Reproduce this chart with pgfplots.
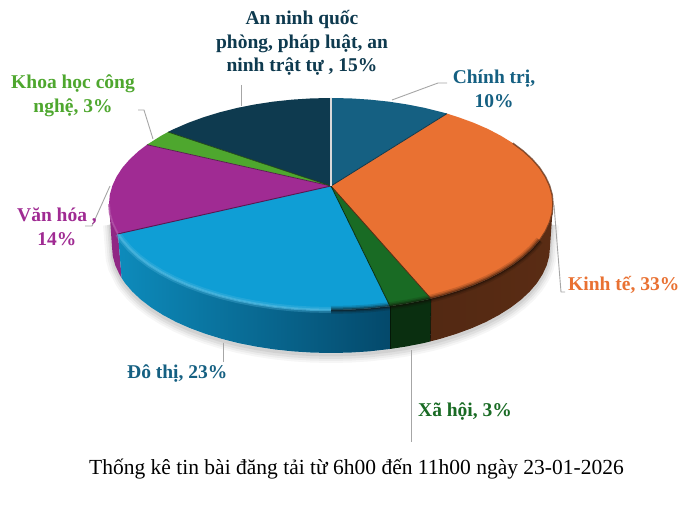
\documentclass[border=0pt]{standalone}
\usepackage{pgfplots}
\pgfplotsset{compat=1.18}
\usepackage{pgfplotstable}
\usepackage{fontspec}
\setmainfont{Liberation Serif}
\definecolor{cTeal}{HTML}{156082}
\definecolor{cOrange}{HTML}{E97132}
\definecolor{cGreen}{HTML}{196B24}
\definecolor{cBlue}{HTML}{0F9ED5}
\definecolor{cPurple}{HTML}{A02B93}
\definecolor{cLime}{HTML}{4EA72E}
\definecolor{cNavy}{HTML}{0E3A4F}
\definecolor{cLead}{HTML}{A6A6A6}
\definecolor{cBrown}{HTML}{5A2C14}
\definecolor{cDGreen}{HTML}{0A2F10}
\definecolor{cDBlue}{HTML}{04496B}
\tikzset{lbl/.style={font=\fontsize{19.5}{23.5}\selectfont\bfseries, align=center, inner sep=0pt}}
\pgfplotstableread{
x y
331 326
331 414
350.4 413.6
369.5 412.4
388.5 410.4
406.9 407.6
424.8 404.1
442 399.8
447 398.4
}\sTeal
\pgfplotstableread{
x y
331 326
447 398.4
458.3 394.8
473.7 389.2
488 383
501.1 376.1
512.9 368.8
523.3 361
532.2 352.8
539.6 344.3
545.4 335.4
549.6 326.4
552.2 317.2
553 308
552.2 298.8
549.6 289.6
545.4 280.6
539.6 271.7
532.2 263.2
523.3 255
512.9 247.2
501.1 239.9
488 233
473.7 226.8
458.3 221.2
442 216.2
431 213.4
}\sOrange
\pgfplotstableread{
x y
331 326
431 213.4
424.8 211.9
406.9 208.4
390 205.8
}\sGreen
\pgfplotstableread{
x y
331 326
390 205.8
388.5 205.6
369.5 203.6
350.4 202.4
331 202
311.6 202.4
292.5 203.6
273.5 205.6
255.1 208.4
237.2 211.9
220 216.2
203.7 221.2
188.3 226.8
174 233
160.9 239.9
149.1 247.2
138.7 255
129.8 263.2
122.4 271.7
118 278.1
}\sBlue
\pgfplotstableread{
x y
331 326
118 278.1
116.6 280.6
112.4 289.6
109.8 298.8
109 308
109.8 317.2
112.4 326.4
116.6 335.4
122.4 344.3
129.8 352.8
138.7 361
147 367.3
}\sPurple
\pgfplotstableread{
x y
331 326
147 367.3
160.9 376.1
168 380
}\sLime
\pgfplotstableread{
x y
331 326
168 380
174 383
188.3 389.2
203.7 394.8
220 399.8
237.2 404.1
255.1 407.6
273.5 410.4
292.5 412.4
311.6 413.6
331 414
}\sNavy
% side walls
\pgfplotstableread{
x y
431 213.4
442 216.2
458.3 221.2
473.7 226.8
488 233
501.1 239.9
512.9 247.2
523.3 255
532.2 263.2
539.6 271.7
545.4 280.6
549.6 289.6
552.2 298.8
553 308
550 265
549.2 255.8
546.7 246.6
542.5 237.6
536.8 228.7
529.5 220.2
520.7 212
510.4 204.2
498.8 196.9
485.9 190
471.8 183.8
456.6 178.2
440.5 173.2
430.4 170.6
}\wOrange
\pgfplotstableread{
x y
431 213.4
424.8 211.9
406.9 208.4
390 205.8
390 163
405.9 165.4
423.6 168.9
430.4 170.6
}\wGreen
\pgfplotstableread{
x y
390 205.8
369.5 203.6
350.4 202.4
331 202
311.6 202.4
292.5 203.6
273.5 205.6
255.1 208.4
237.2 211.9
220 216.2
203.7 221.2
188.3 226.8
174 233
160.9 239.9
149.1 247.2
138.7 255
129.8 263.2
122.4 271.7
118 278.1
121.6 234
125.2 228.7
132.5 220.2
141.3 212
151.6 204.2
163.2 196.9
176.1 190
190.2 183.8
205.4 178.2
221.5 173.2
238.4 168.9
256.1 165.4
274.3 162.6
293 160.6
311.9 159.4
331 159
350.1 159.4
369 160.6
390 163
}\wBlue
\pgfplotstableread{
x y
118 278.1
116.6 280.6
112.4 289.6
109.8 298.8
109 308
112 265
112.8 255.8
115.3 246.6
119.5 237.6
121.6 234
}\wPurple
% lower rim, for the soft shadow
\pgfplotstableread{
x y
552 290
550 265
549.2 255.8
546.7 246.6
542.5 237.6
536.8 228.7
529.5 220.2
520.7 212
510.4 204.2
498.8 196.9
485.9 190
471.8 183.8
456.6 178.2
440.5 173.2
430.4 170.6
405.9 165.4
390 163
369 160.6
350.1 159.4
331 159
311.9 159.4
293 160.6
274.3 162.6
256.1 165.4
238.4 168.9
221.5 173.2
205.4 178.2
190.2 183.8
176.1 190
163.2 196.9
151.6 204.2
141.3 212
132.5 220.2
125.2 228.7
121.6 234
115.3 246.6
112.8 255.8
112 265
110 290
}\rim
% bevel arcs
\pgfplotstableread{
x y
539.6 271.7
532.2 263.2
523.3 255
512.9 247.2
501.1 239.9
488 233
473.7 226.8
458.3 221.2
442 216.2
431 213.4
424.8 211.9
406.9 208.4
390 205.8
369.5 203.6
350.4 202.4
331 202
}\bevDark
\pgfplotstableread{
x y
512.9 368.8
523.3 361
532.2 352.8
539.6 344.3
545.4 335.4
549.6 326.4
552.2 317.2
553 308
552.2 298.8
549.6 289.6
545.4 280.6
539.6 271.7
}\bevRight
\pgfplotstableread{
x y
331 202
311.6 202.4
292.5 203.6
273.5 205.6
255.1 208.4
237.2 211.9
220 216.2
203.7 221.2
188.3 226.8
174 233
160.9 239.9
149.1 247.2
138.7 255
129.8 263.2
122.4 271.7
118 278.1
}\bevBlue
\pgfplotstableread{
x y
118 278.1
116.6 280.6
112.4 289.6
109.8 298.8
109 308
}\bevPurple
\begin{document}
\begin{tikzpicture}[x=1pt,y=1pt]
\begin{axis}[
  at={(0,0)}, anchor=south west,
  width=686pt, height=512pt, scale only axis,
  xmin=0, xmax=686, ymin=0, ymax=512,
  hide axis, clip=false,
  every axis plot/.append style={line join=round},
]
% page
\addplot[draw=none, fill=white] coordinates {(0,0) (686,0) (686,512) (0,512)};
% soft shadow
\addplot[no markers, draw=black, opacity=.035, line width=14pt, yshift=-3pt] table {\rim};
\addplot[no markers, draw=black, opacity=.04, line width=10pt, yshift=-3pt] table {\rim};
\addplot[no markers, draw=black, opacity=.05, line width=6pt, yshift=-3pt] table {\rim};
\addplot[no markers, draw=black, opacity=.06, line width=3pt, yshift=-2pt] table {\rim};
% side walls
\addplot[no markers, draw=none, left color=cBrown!92!black, right color=cBrown] table {\wOrange};
\addplot[no markers, draw=none, fill=cDGreen] table {\wGreen};
\addplot[no markers, draw=none, fill=cPurple!90!black] table {\wPurple};
\addplot[no markers, draw=none, left color=cBlue!88!black, middle color=cBlue!55!cDBlue, right color=cDBlue] table {\wBlue};
% wall seam
\addplot[no markers, draw=black, opacity=.5, line width=.6pt] coordinates {(390,205.8) (390,163)};
\addplot[no markers, draw=black, opacity=.5, line width=.6pt] coordinates {(431,213.4) (430.4,170.6)};
% top faces
\addplot[no markers, draw=none, fill=cTeal] table {\sTeal};
\addplot[no markers, draw=none, fill=cOrange] table {\sOrange};
\addplot[no markers, draw=none, fill=cGreen] table {\sGreen};
\addplot[no markers, draw=none, fill=cBlue] table {\sBlue};
\addplot[no markers, draw=none, fill=cPurple] table {\sPurple};
\addplot[no markers, draw=none, fill=cLime] table {\sLime};
\addplot[no markers, draw=none, fill=cNavy] table {\sNavy};
% bevels
\addplot[no markers, draw=black!80!cBrown, opacity=.14, line width=8pt] table {\bevDark};
\addplot[no markers, draw=black!80!cBrown, opacity=.22, line width=5pt] table {\bevDark};
\addplot[no markers, draw=black!80!cBrown, opacity=.35, line width=2.5pt] table {\bevDark};
\addplot[no markers, draw=cBrown, opacity=.7, line width=1.5pt] table {\bevRight};
\addplot[no markers, draw=cBlue!70!white, opacity=.3, line width=6pt] table {\bevBlue};
\addplot[no markers, draw=cBlue!75!white, opacity=.7, line width=2.5pt] table {\bevBlue};
\addplot[no markers, draw=cPurple!80!white, opacity=.7, line width=2pt] table {\bevPurple};
% radial edges
\addplot[no markers, draw=cNavy, line width=.8pt] coordinates {(331,326) (447,398.4)};
\addplot[no markers, draw=cBrown, line width=.8pt] coordinates {(331,326) (431,213.4)};
\addplot[no markers, draw=cDGreen, line width=.8pt] coordinates {(331,326) (390,205.8)};
\addplot[no markers, draw=cPurple!55!black, line width=.9pt] coordinates {(331,326) (118,278.1)};
\addplot[no markers, draw=cPurple!55!black, line width=.7pt] coordinates {(331,326) (147,367.3)};
\addplot[no markers, draw=cLime!45!black, line width=.7pt] coordinates {(331,326) (168,380)};
\addplot[no markers, draw=white!85!black, line width=1.2pt] coordinates {(331,326) (331,414)};
% leader lines
\addplot[no markers, draw=cLead, line width=.9pt] coordinates {(241,427) (241,406)};
\addplot[no markers, draw=cLead, line width=.9pt] coordinates {(392,412) (438,429) (447,429)};
\addplot[no markers, draw=cLead, line width=.9pt] coordinates {(138,402) (144,402) (153,373)};
\addplot[no markers, draw=cLead, line width=.9pt] coordinates {(110,326) (92,286) (85,286)};
\addplot[no markers, draw=cLead, line width=.9pt] coordinates {(223,169) (223,150)};
\addplot[no markers, draw=cLead, line width=.9pt] coordinates {(554,307) (561,220) (565,220)};
\addplot[no markers, draw=cLead, line width=.9pt] coordinates {(411,162) (411,70)};
% labels
\node[lbl, text=cNavy] at (axis cs:302,469) {An ninh quốc\\phòng, pháp luật, an\\ninh trật tự , 15\%};
\node[lbl, text=cTeal] at (axis cs:494,423) {Chính trị,\\10\%};
\node[lbl, text=cOrange, anchor=west] at (axis cs:568,227) {Kinh tế, 33\%};
\node[lbl, text=cGreen, anchor=west] at (axis cs:418,100) {Xã hội, 3\%};
\node[lbl, text=cTeal, anchor=west] at (axis cs:127,138) {Đô thị, 23\%};
\node[lbl, text=cPurple] at (axis cs:57,285) {Văn hóa ,\\14\%};
\node[lbl, text=cLime] at (axis cs:73,416) {Khoa học công\\nghệ, 3\%};
\node[font=\fontsize{21.5}{26}\selectfont, text=black, inner sep=0pt, anchor=west] at (axis cs:89,43) {Thống kê tin bài đăng tải từ 6h00 đến 11h00 ngày 23-01-2026};
\end{axis}
\end{tikzpicture}
\end{document}
